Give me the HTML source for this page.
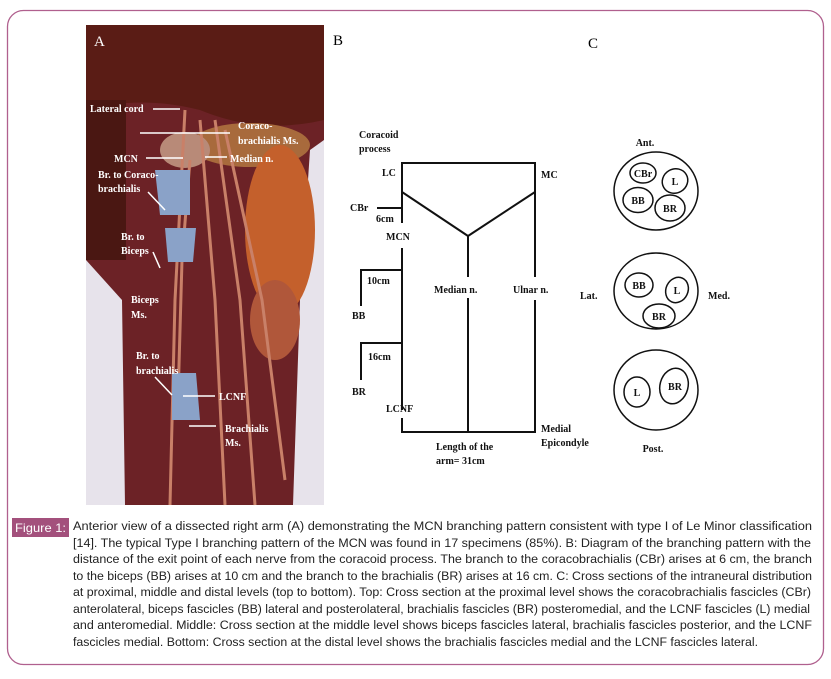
<!DOCTYPE html>
<html><head><meta charset="utf-8"><style>
html,body{margin:0;padding:0;background:#fff;}
svg{display:block;}
.w{font-family:"Liberation Serif",serif;font-weight:bold;font-size:10px;fill:#fff;}
.b{font-family:"Liberation Serif",serif;font-weight:bold;font-size:10px;fill:#111;}
.c{font-family:"Liberation Sans",sans-serif;font-size:12.4px;fill:#222;}
</style></head><body>
<svg width="831" height="679" viewBox="0 0 831 679" xmlns="http://www.w3.org/2000/svg">
<rect x="7.5" y="10.5" width="816" height="654" rx="16" fill="#fff" stroke="#b0608e" stroke-width="1.3"/>
<!-- photo -->
<rect x="86" y="25" width="238" height="480" fill="#e7e3eb"/>
<path d="M86 25 H324 V140 L310 150 L300 300 L293 505 H125 L122 300 L86 260 Z" fill="#6c2226"/>
<path d="M86 25 H324 V120 Q260 135 200 110 Q140 95 86 110 Z" fill="#5a1c15"/>
<ellipse cx="250" cy="145" rx="60" ry="22" fill="#a86a3c"/>
<ellipse cx="280" cy="230" rx="35" ry="85" fill="#c4602c"/>
<ellipse cx="275" cy="320" rx="25" ry="40" fill="#b0573a"/>
<rect x="86" y="100" width="40" height="160" fill="#4a1712"/>
<ellipse cx="185" cy="150" rx="25" ry="18" fill="#b88a78"/>
<g stroke="#c98068" stroke-width="3" fill="none">
<path d="M185 110 L175 300 L170 505"/>
<path d="M200 120 L215 300 L225 505"/>
<path d="M215 120 L240 300 L255 505"/>
<path d="M225 130 L262 300 L285 480"/>
<path d="M190 160 L182 260 L178 400"/>
</g>
<polygon points="155,170 190,170 190,215 160,215" fill="#8aa2c8"/>
<polygon points="165,228 196,228 193,262 168,262" fill="#8aa2c8"/>
<polygon points="172,373 196,373 200,420 172,420" fill="#8aa2c8"/>
<g stroke="#fff" stroke-width="1.5">
<line x1="153" y1="109" x2="180" y2="109"/>
<line x1="140" y1="133" x2="230" y2="133"/>
<line x1="146" y1="158" x2="183" y2="158"/>
<line x1="205" y1="157" x2="227" y2="157"/>
<line x1="148" y1="192" x2="165" y2="210"/>
<line x1="153" y1="252" x2="160" y2="268"/>
<line x1="155" y1="377" x2="172" y2="395"/>
<line x1="183" y1="396" x2="215" y2="396"/>
<line x1="189" y1="426" x2="216" y2="426"/>
</g>
<text x="94" y="46" class="w" style="font-size:15px;font-weight:normal">A</text>
<text x="90" y="112" class="w">Lateral cord</text>
<text x="238" y="129" class="w">Coraco-</text>
<text x="238" y="144" class="w">brachialis Ms.</text>
<text x="114" y="162" class="w">MCN</text>
<text x="230" y="162" class="w">Median n.</text>
<text x="98" y="178" class="w">Br. to Coraco-</text>
<text x="98" y="192" class="w">brachialis</text>
<text x="121" y="240" class="w">Br. to</text>
<text x="121" y="254" class="w">Biceps</text>
<text x="131" y="303" class="w">Biceps</text>
<text x="131" y="318" class="w">Ms.</text>
<text x="136" y="359" class="w">Br. to</text>
<text x="136" y="374" class="w">brachialis</text>
<text x="219" y="400" class="w">LCNF</text>
<text x="225" y="432" class="w">Brachialis</text>
<text x="225" y="446" class="w">Ms.</text>
<!-- B -->
<text x="333" y="45" style="font-family:'Liberation Serif',serif;font-size:15px">B</text>
<text x="588" y="48" style="font-family:'Liberation Serif',serif;font-size:15px">C</text>
<g stroke="#111" stroke-width="2" fill="none">
<path d="M402 223 V163 H535 V277"/>
<path d="M535 300 V432 H402 V418"/>
<path d="M402 410 V248"/>
<path d="M402 192 L468 236 L535 192"/>
<path d="M468 236 V277 M468 298 V432"/>
<path d="M377 208 H402"/>
<path d="M402 270 H361 V306"/>
<path d="M402 343 H361 V380"/>
</g>
<text x="359" y="138" class="b">Coracoid</text>
<text x="359" y="152" class="b">process</text>
<text x="382" y="176" class="b">LC</text>
<text x="541" y="178" class="b">MC</text>
<text x="350" y="211" class="b">CBr</text>
<text x="376" y="222" class="b">6cm</text>
<text x="386" y="240" class="b">MCN</text>
<text x="367" y="284" class="b">10cm</text>
<text x="352" y="319" class="b">BB</text>
<text x="368" y="360" class="b">16cm</text>
<text x="352" y="395" class="b">BR</text>
<text x="386" y="412" class="b">LCNF</text>
<text x="434" y="293" class="b">Median n.</text>
<text x="513" y="293" class="b">Ulnar n.</text>
<text x="541" y="432" class="b">Medial</text>
<text x="541" y="446" class="b">Epicondyle</text>
<text x="436" y="450" class="b">Length of the</text>
<text x="436" y="464" class="b">arm= 31cm</text>
<!-- C -->
<g stroke="#111" stroke-width="1.5" fill="none">
<ellipse cx="656" cy="191" rx="42" ry="39"/>
<ellipse cx="643" cy="173" rx="13" ry="10"/>
<ellipse cx="675" cy="181" rx="13" ry="12" transform="rotate(-30 675 181)"/>
<ellipse cx="638" cy="200" rx="15" ry="12.5"/>
<ellipse cx="670" cy="208" rx="15" ry="13"/>
<ellipse cx="656" cy="291" rx="42" ry="38"/>
<ellipse cx="639" cy="285" rx="14" ry="12"/>
<ellipse cx="677" cy="290" rx="11" ry="13" transform="rotate(25 677 290)"/>
<ellipse cx="659" cy="316" rx="16" ry="12"/>
<ellipse cx="656" cy="390" rx="42" ry="40"/>
<ellipse cx="637" cy="392" rx="13" ry="15"/>
<ellipse cx="674" cy="386" rx="14" ry="18" transform="rotate(15 674 386)"/>
</g>
<text x="645" y="146" class="b" text-anchor="middle">Ant.</text>
<text x="643" y="177" class="b" text-anchor="middle">CBr</text>
<text x="675" y="185" class="b" text-anchor="middle">L</text>
<text x="638" y="204" class="b" text-anchor="middle">BB</text>
<text x="670" y="212" class="b" text-anchor="middle">BR</text>
<text x="580" y="299" class="b">Lat.</text>
<text x="708" y="299" class="b">Med.</text>
<text x="639" y="289" class="b" text-anchor="middle">BB</text>
<text x="677" y="294" class="b" text-anchor="middle">L</text>
<text x="659" y="320" class="b" text-anchor="middle">BR</text>
<text x="637" y="396" class="b" text-anchor="middle">L</text>
<text x="675" y="390" class="b" text-anchor="middle">BR</text>
<text x="653" y="452" class="b" text-anchor="middle">Post.</text>
<!-- caption -->
<rect x="12" y="518" width="57" height="19" fill="#a3507c"/>
<text x="15" y="532" style="font-family:'Liberation Sans',sans-serif;font-size:12px;fill:#fff" textLength="51" lengthAdjust="spacingAndGlyphs">Figure 1:</text>
<g class="c">
<text x="73" y="530" textLength="739" lengthAdjust="spacingAndGlyphs">Anterior view of a dissected right arm (A) demonstrating the MCN branching pattern consistent with type I of Le Minor classification</text>
<text x="73" y="547" textLength="738" lengthAdjust="spacingAndGlyphs">[14]. The typical Type I branching pattern of the MCN was found in 17 specimens (85%). B: Diagram of the branching pattern with the</text>
<text x="73" y="563" textLength="739" lengthAdjust="spacingAndGlyphs">distance of the exit point of each nerve from the coracoid process. The branch to the coracobrachialis (CBr) arises at 6 cm, the branch</text>
<text x="73" y="580" textLength="739" lengthAdjust="spacingAndGlyphs">to the biceps (BB) arises at 10 cm and the branch to the brachialis (BR) arises at 16 cm. C: Cross sections of the intraneural distribution</text>
<text x="73" y="596" textLength="738" lengthAdjust="spacingAndGlyphs">at proximal, middle and distal levels (top to bottom). Top: Cross section at the proximal level shows the coracobrachialis fascicles (CBr)</text>
<text x="73" y="613" textLength="737" lengthAdjust="spacingAndGlyphs">anterolateral, biceps fascicles (BB) lateral and posterolateral, brachialis fascicles (BR) posteromedial, and the LCNF fascicles (L) medial</text>
<text x="73" y="629" textLength="739" lengthAdjust="spacingAndGlyphs">and anteromedial. Middle: Cross section at the middle level shows biceps fascicles lateral, brachialis fascicles posterior, and the LCNF</text>
<text x="73" y="646" textLength="685" lengthAdjust="spacingAndGlyphs">fascicles medial. Bottom: Cross section at the distal level shows the brachialis fascicles medial and the LCNF fascicles lateral.</text>
</g>
</svg>
</body></html>
